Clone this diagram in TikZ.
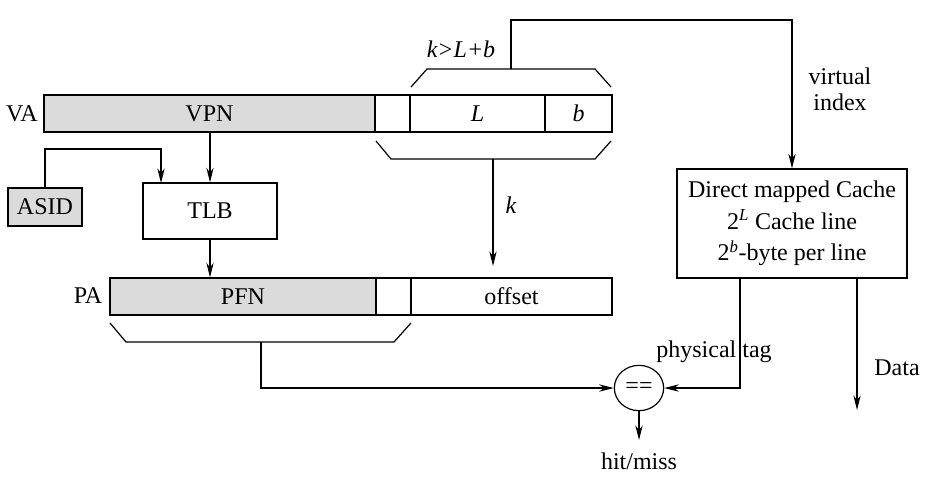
\documentclass[tikz,border=0pt]{standalone}
\usepackage{fontspec}
\setmainfont{Liberation Serif}
\usetikzlibrary{fit,arrows.meta,shapes.geometric}
\begin{document}
\begin{tikzpicture}[x=0.75pt,y=-0.75pt,
  every node/.style={font=\fontsize{18}{23.5}\selectfont},
  ln/.style={line width=0.9pt},
  arr/.style={ln,-{Stealth[length=11pt,width=5.5pt]}},
  field/.style={draw,line width=0.9pt,inner sep=0pt},
  graybox/.style={field,fill=gray!28},
  lbl/.style={inner sep=1pt}]
\useasboundingbox (0,0) rectangle (930,479);
% VA bar
\node[graybox,fit={(44,95)(375,132)},label={[lbl]center:VPN}] (vpn) {};
\node[field,fit={(375,95)(410,132)}] (vblank) {};
\node[field,fit={(410,95)(545,132)},label={[lbl]center:\itshape L}] (lf) {};
\node[field,fit={(545,95)(612,132)},label={[lbl]center:\itshape b}] (bf) {};
\node[lbl] (va) at (22,114) {VA};
% top bracket
\draw[ln] (411,87) -- (427,69) -- (595,69) -- (611,87);
\coordinate (tb) at (511,69);
\node[lbl] (klb) at (461,49) {\itshape k>L+b};
\node[lbl,align=center] (vi) at (840,89) {virtual\\[-4pt]index};
% bottom bracket under VA
\draw[ln] (376,141) -- (391,159) -- (595,159) -- (611,141);
\coordinate (bb) at (493,159);
\coordinate (kend) at (493,266);
\node[lbl] (klab) at (511,205) {\itshape k};
% cache
\node[field,fit={(677,169)(907,278)}] (cache) {};
\node[lbl,align=center] (ctext) at (cache.center)
  {Direct mapped Cache\\ 2$^{\mathit{L}}$ Cache line\\ 2$^{\mathit{b}}$-byte per line};
% ASID, TLB
\node[graybox,fit={(8,188)(82,226)},label={[lbl]center:ASID}] (asid) {};
\node[field,fit={(143,183)(277,239)},label={[lbl]center:TLB}] (tlb) {};
% PA bar
\node[graybox,fit={(110,278)(376,315)},label={[lbl]center:PFN}] (pfn) {};
\node[field,fit={(376,278)(411,315)}] (pblank) {};
\node[field,fit={(411,278)(612,315)},label={[lbl]center:offset}] (off) {};
\node[lbl] (pa) at (88,296) {PA};
% PA bracket
\draw[ln] (110,323) -- (126,342) -- (394,342) -- (411,323);
\coordinate (pb) at (261,342);
% comparator
\node[draw,line width=0.9pt,ellipse,minimum width=37pt,minimum height=34pt,inner sep=0pt] (cmp) at (639,388) {==};
\coordinate (hm) at (639,440);
\node[lbl] (hit) at (639,461) {hit/miss};
\coordinate (dend) at (857,410);
\node[lbl] (data) at (897,368) {Data};
\node[lbl] (pt) at (714,352) {physical tag};
% connectors
\draw[arr] (tb) -- (tb |- 0,20) -| (cache.north);
\draw[arr] (bb) -- (kend);
\draw[arr] (vpn.south -| tlb.north) -- (tlb.north);
\draw[arr] (asid.north) |- (161,149) -- (161,183);
\draw[arr] (tlb.south) -- (tlb.south |- pfn.north);
\draw[arr] (pb) |- (cmp.west);
\draw[arr] (740,278) |- (cmp.east);
\draw[arr] (cache.south -| dend) -- (dend);
\draw[arr] (cmp.south) -- (hm);
\end{tikzpicture}
\end{document}
